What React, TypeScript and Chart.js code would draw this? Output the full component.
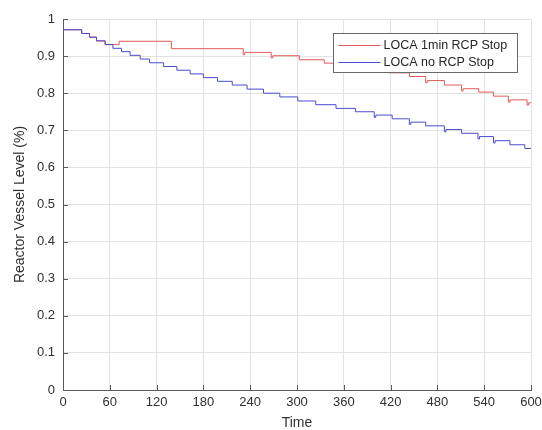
import React, { useEffect, useRef } from 'react';
import { Chart, registerables } from 'chart.js';

Chart.register(...registerables);

// ---- data ----
const seriesLabels = ['LOCA 1min RCP Stop', 'LOCA no RCP Stop'];
const seriesColors = ['#e25a5a', '#4b4bd2'];

// step change points: from time t the level holds the given value
const redTimes = [0, 24, 34, 43, 54, 72, 139, 231, 233, 267, 269, 303, 335, 360, 390, 418, 444, 465, 467, 489, 511, 513, 533, 552, 571, 573, 595, 597, 600];
const redLevels = [0.971, 0.961, 0.951, 0.941, 0.931, 0.940, 0.920, 0.904, 0.910, 0.895, 0.901, 0.890, 0.881, 0.872, 0.863, 0.855, 0.845, 0.828, 0.834, 0.822, 0.806, 0.812, 0.803, 0.792, 0.776, 0.782, 0.768, 0.774, 0.774];

const blueTimes = [0, 24, 34, 43, 54, 64, 75, 86, 99, 111, 129, 146, 163, 180, 198, 217, 236, 257, 278, 301, 324, 350, 375, 399, 401, 422, 444, 446, 465, 489, 491, 511, 532, 534, 552, 554, 573, 592, 600];
const blueLevels = [0.971, 0.961, 0.951, 0.941, 0.931, 0.921, 0.912, 0.902, 0.892, 0.882, 0.872, 0.862, 0.852, 0.842, 0.832, 0.822, 0.811, 0.800, 0.790, 0.779, 0.769, 0.759, 0.750, 0.735, 0.741, 0.731, 0.716, 0.722, 0.712, 0.696, 0.702, 0.692, 0.677, 0.683, 0.666, 0.672, 0.661, 0.651, 0.651];

const xTickValues = [0, 60, 120, 180, 240, 300, 360, 420, 480, 540, 600];
const xTickLabels = ['0', '60', '120', '180', '240', '300', '360', '420', '480', '540', '600'];
const yTickValues = [0, 0.1, 0.2, 0.3, 0.4, 0.5, 0.6, 0.7, 0.8, 0.9, 1];
const yTickLabels = ['0', '0.1', '0.2', '0.3', '0.4', '0.5', '0.6', '0.7', '0.8', '0.9', '1'];

const xTitle = 'Time';
const yTitle = 'Reactor Vessel Level (%)';

// ---- styles ----
const FONT = "'Liberation Sans', Arial, Helvetica, sans-serif";
const TEXT = '#303030';
const AXIS = '#5a5a5a';
const GRID = '#e2e2e2';

const toPoints = (ts: number[], vs: number[]) => ts.map((t, i) => ({ x: t, y: vs[i] }));
const labelFor = (vals: number[], labs: string[]) => (v: any) => {
  const i = vals.findIndex((t) => Math.abs(t - Number(v)) < 1e-6);
  return i >= 0 ? labs[i] : '';
};

const overlayPlugin = {
  id: 'overlay',
  afterDraw(chart: any) {
    const { ctx, chartArea, scales } = chart;
    const xs = scales.x;
    const ys = scales.y;
    ctx.save();
    // inward tick marks
    ctx.strokeStyle = AXIS;
    ctx.lineWidth = 1;
    ctx.beginPath();
    xs.ticks.forEach((t: any) => {
      const px = Math.round(xs.getPixelForValue(t.value)) + 0.5;
      ctx.moveTo(px, chartArea.bottom);
      ctx.lineTo(px, chartArea.bottom - 5);
    });
    ys.ticks.forEach((t: any) => {
      const py = Math.round(ys.getPixelForValue(t.value)) + 0.5;
      ctx.moveTo(chartArea.left, py);
      ctx.lineTo(chartArea.left + 5, py);
    });
    ctx.stroke();

    // legend box (top right, inside the axes)
    const w = 184;
    const h = 39;
    const lx = Math.round(chartArea.right - 198) + 0.5;
    const ly = Math.round(chartArea.top + 14) + 0.5;
    ctx.fillStyle = '#ffffff';
    ctx.fillRect(lx, ly, w, h);
    ctx.strokeStyle = '#6a6a6a';
    ctx.lineWidth = 1;
    ctx.strokeRect(lx, ly, w, h);
    ctx.font = `12.5px ${FONT}`;
    ctx.textBaseline = 'middle';
    ctx.textAlign = 'left';
    chart.data.datasets.forEach((ds: any, i: number) => {
      const yy = Math.round(ly + 11 + i * 17.5) + 0.5;
      ctx.strokeStyle = ds.borderColor;
      ctx.beginPath();
      ctx.moveTo(lx + 5, yy);
      ctx.lineTo(lx + 47, yy);
      ctx.stroke();
      ctx.fillStyle = '#262626';
      ctx.fillText(ds.label, lx + 50, yy);
    });
    ctx.restore();
  },
};

export default function App() {
  const ref = useRef<HTMLCanvasElement>(null);

  useEffect(() => {
    document.body.style.margin = '0';
    const canvas = ref.current;
    if (!canvas) return;
    const chart = new Chart(canvas, {
      type: 'line',
      data: {
        datasets: [
          {
            label: seriesLabels[0],
            data: toPoints(redTimes, redLevels),
            borderColor: seriesColors[0],
            backgroundColor: seriesColors[0],
            borderWidth: 1,
            stepped: true,
            pointRadius: 0,
            order: 1,
          },
          {
            label: seriesLabels[1],
            data: toPoints(blueTimes, blueLevels),
            borderColor: seriesColors[1],
            backgroundColor: seriesColors[1],
            borderWidth: 1,
            stepped: true,
            pointRadius: 0,
            order: 0,
          },
        ],
      },
      options: {
        animation: false,
        responsive: false,
        devicePixelRatio: 1,
        layout: { padding: { left: 0, right: 11, top: 19, bottom: 0 } },
        plugins: { legend: { display: false }, tooltip: { enabled: false } },
        scales: {
          x: {
            type: 'linear',
            min: 0,
            max: 600,
            afterFit: (s: any) => {
              s.height = 40;
              s.paddingLeft = 0;
              s.paddingRight = 0;
            },
            ticks: {
              stepSize: 60,
              padding: 5,
              autoSkip: false,
              maxRotation: 0,
              color: TEXT,
              font: { family: FONT, size: 13 },
              callback: labelFor(xTickValues, xTickLabels),
            },
            grid: { color: GRID, drawTicks: false, lineWidth: 1 },
            border: { display: true, color: AXIS, width: 1 },
            title: {
              display: true,
              text: xTitle,
              color: TEXT,
              font: { family: FONT, size: 14, lineHeight: 1 },
              padding: { top: 0, bottom: 0 },
            },
          },
          y: {
            type: 'linear',
            min: 0,
            max: 1,
            afterFit: (s: any) => {
              s.width = 63;
              s.paddingTop = 0;
              s.paddingBottom = 0;
            },
            ticks: {
              stepSize: 0.1,
              padding: 8,
              autoSkip: false,
              color: TEXT,
              font: { family: FONT, size: 13 },
              callback: labelFor(yTickValues, yTickLabels),
            },
            grid: { color: GRID, drawTicks: false, lineWidth: 1 },
            border: { display: true, color: AXIS, width: 1 },
            title: {
              display: true,
              text: yTitle,
              color: TEXT,
              font: { family: FONT, size: 14, lineHeight: 1.2 },
              padding: { top: 12, bottom: 0 },
            },
          },
        },
      },
      plugins: [overlayPlugin],
    });
    return () => chart.destroy();
  }, []);

  return (
    <div style={{ width: 542, height: 430, position: 'relative', background: '#ffffff' }}>
      <canvas ref={ref} width={542} height={430} style={{ display: 'block' }} />
    </div>
  );
}
